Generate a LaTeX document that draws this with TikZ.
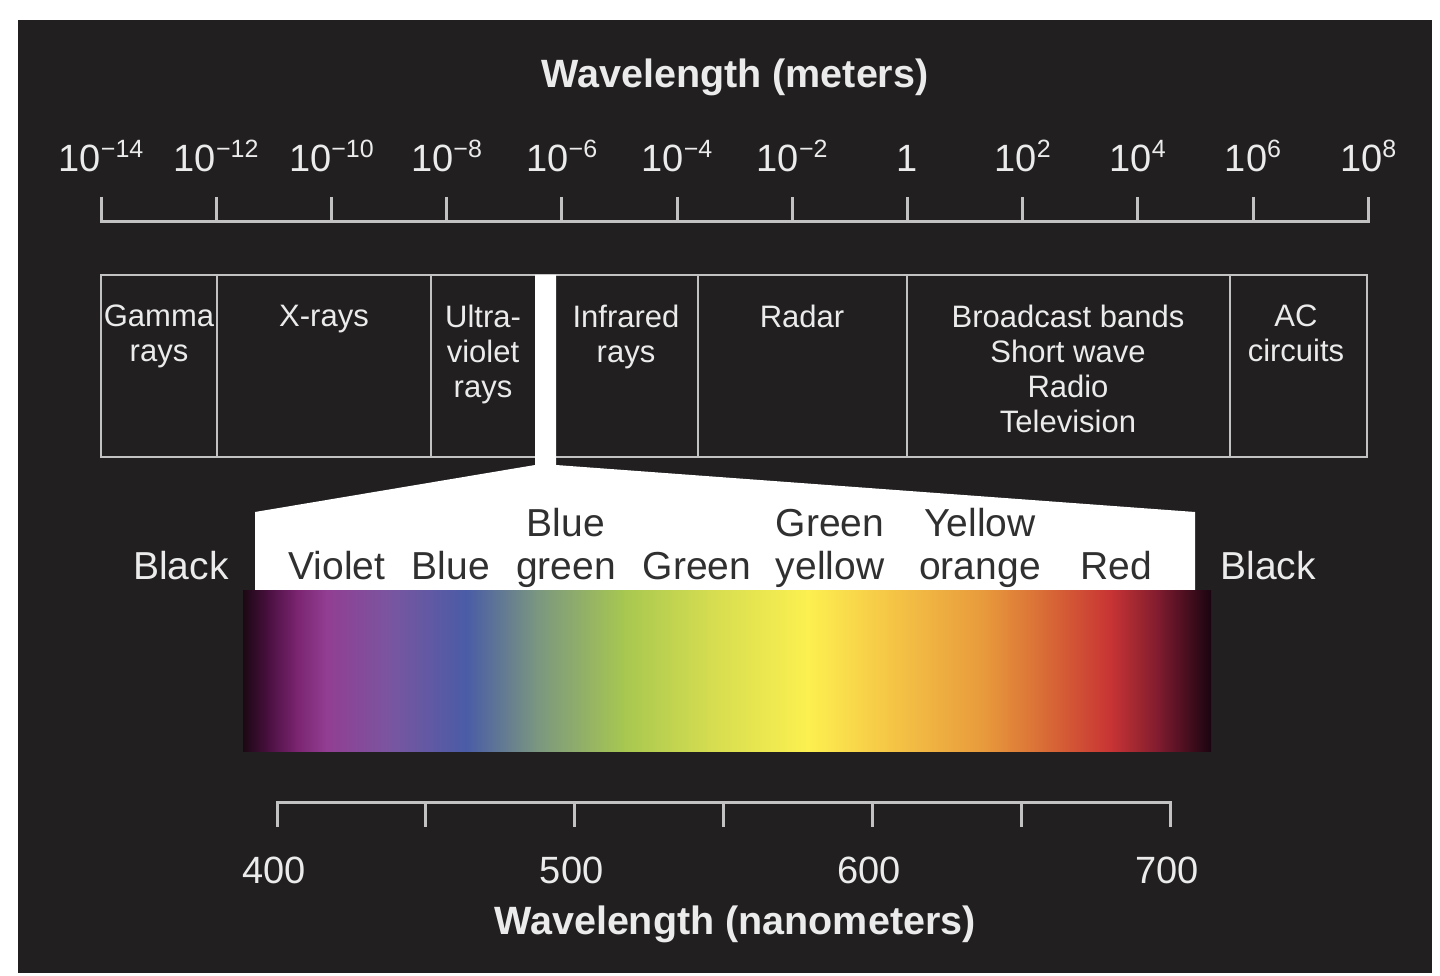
\documentclass[tikz,border=0pt]{standalone}
\usepackage{fontspec}
\setmainfont{Liberation Sans}
\usepackage{tikz}
\usepackage{xcolor}
\definecolor{bg}{HTML}{211F20}
\definecolor{ink}{HTML}{EBEBEB}
\definecolor{rulegray}{HTML}{C2C2C2}
\definecolor{dark}{HTML}{303030}
\definecolor{sa}{HTML}{1C0814}
\definecolor{sb}{HTML}{4A1040}
\definecolor{sc}{HTML}{7A2470}
\definecolor{sd}{HTML}{923E92}
\definecolor{se}{HTML}{7A55A0}
\definecolor{sf}{HTML}{4A5CA6}
\definecolor{sg}{HTML}{7A9680}
\definecolor{sh}{HTML}{A8C850}
\definecolor{si}{HTML}{D4DC50}
\definecolor{sj}{HTML}{FCF050}
\definecolor{sk}{HTML}{F8D048}
\definecolor{sl}{HTML}{E89A3C}
\definecolor{sm}{HTML}{D86A36}
\definecolor{sn}{HTML}{C83434}
\definecolor{so}{HTML}{7A1A2E}
\definecolor{sp}{HTML}{1A0410}
\tikzstyle{axisline} = [draw=rulegray, line width=3pt]
\tikzstyle{boxline} = [draw=rulegray, line width=2.6pt]
\tikzstyle{title} = [text=ink, inner sep=0pt, anchor=base, font=\bfseries\fontsize{39.5}{42}\selectfont]
\tikzstyle{num} = [text=ink, inner sep=0pt, anchor=base, font=\fontsize{38}{42}\selectfont]
\tikzstyle{band} = [text=ink, inner sep=0pt, anchor=north, align=center, font=\fontsize{31}{35}\selectfont]
\tikzstyle{hue} = [text=dark, inner sep=0pt, align=center, font=\fontsize{39}{43}\selectfont]
\newcommand{\tenpow}[1]{10\raisebox{14pt}{\fontsize{25}{25}\selectfont #1}}

\begin{document}
\begin{tikzpicture}[x=1pt, y=-1pt]
\fill [white] (0,0) rectangle (1440,976);
\fill [bg] (18,20) rectangle (1432,973);

% titles
\node (toptitle) [title] at (735,88) {Wavelength (meters)};
\node (bottitle) [title] at (735,934) {Wavelength (nanometers)};

% metre scale
\draw [axisline] (101,197) -- (101,222) -- (1368,222) -- (1368,197);
\foreach \lab [count=\i from 0] in {\tenpow{−14},\tenpow{−12},\tenpow{−10},\tenpow{−8},\tenpow{−6},\tenpow{−4},\tenpow{−2},1,\tenpow{2},\tenpow{4},\tenpow{6},\tenpow{8}} {
  \draw [axisline] ({101+\i*115.2},197) -- ({101+\i*115.2},222);
  \node (m\i) [num] at ({101+\i*115.2},172) {\lab};
}

% bands
\draw [boxline] (101,275) rectangle (1367,457);
\foreach \x in {217,431,698,907,1230}
  \draw [boxline] (\x,275) -- (\x,457);
\node (gamma) [band] at (159,305) {Gamma\\rays};
\node (xrays) [band] at (324,305) {X-rays};
\node (uv) [band] at (483,305) {Ultra-\\violet\\rays};
\node (infrared) [band] at (626,305) {Infrared\\rays};
\node (radar) [band] at (802,305) {Radar};
\node (broadcast) [band] at (1068,305) {Broadcast bands\\Short wave\\Radio\\Television};
\node (ac) [band] at (1296,305) {AC\\circuits};

% visible window
\fill [white] (535,275) -- (556,275) -- (556,465) -- (1195,512) -- (1195,590)
  -- (255,590) -- (255,512) -- (535,465) -- cycle;

% spectrum
\foreach \xa/\xb/\ca/\cb in {243/268/sa/sb, 268/296/sb/sc, 296/326/sc/sd, 326/389/sd/se,
  389/466/se/sf, 466/536/sf/sg, 536/625/sg/sh, 625/708/sh/si, 708/807/si/sj,
  807/868/sj/sk, 868/983/sk/sl, 983/1046/sl/sm, 1046/1110/sm/sn, 1110/1161/sn/so,
  1161/1210/so/sp}
  \shade [left color=\ca, right color=\cb] (\xa,590) rectangle ({\xb+1},751);

\node (blackl) [hue, text=ink, anchor=base] at (181,579) {Black};
\node (violet) [hue, anchor=base] at (337,579) {Violet};
\node (blue) [hue, anchor=base] at (451,579) {Blue};
\node (bluegreen) [hue, anchor=south] at (566,588) {Blue\\green};
\node (green) [hue, anchor=base] at (697,579) {Green};
\node (greenyellow) [hue, anchor=south] at (830,588) {Green\\yellow};
\node (yelloworange) [hue, anchor=south] at (980,588) {Yellow\\orange};
\node (red) [hue, anchor=base] at (1116,579) {Red};
\node (blackr) [hue, text=ink, anchor=base] at (1268,579) {Black};

% nanometre scale
\draw [axisline] (277,827) -- (277,802) -- (1170,802) -- (1170,827);
\foreach \i in {1,...,5}
  \draw [axisline] ({277+\i*148.83},802) -- ({277+\i*148.83},827);
\foreach \v [count=\i from 0] in {400,500,600,700}
  \node (nm\v) [num] at ({274+\i*297.67},883) {\v};
\end{tikzpicture}
\end{document}
